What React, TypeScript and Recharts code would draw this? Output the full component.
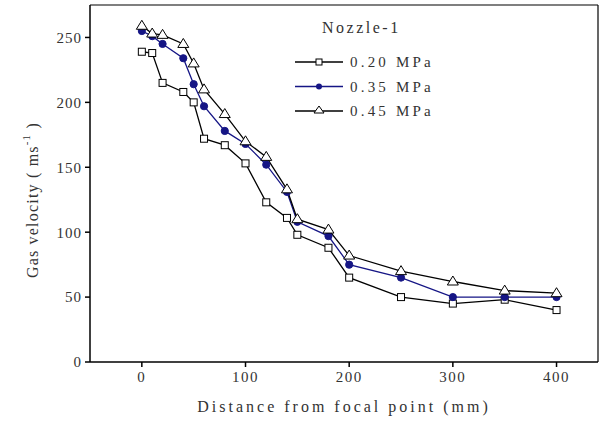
import React from "react";
import { Legend, LineChart, Line, ReferenceLine, XAxis, YAxis } from "recharts";

const distances = [0, 10, 20, 40, 50, 60, 80, 100, 120, 140, 150, 180, 200, 250, 300, 350, 400];
const p020 = [239, 238, 215, 208, 200, 172, 167, 153, 123, 111, 98, 88, 65, 50, 45, 48, 40];
const p035 = [255, 251, 245, 234, 214, 197, 178, 168, 152, 131, 108, 97, 75, 65, 50, 50, 50];
const p045 = [259, 253, 252, 245, 230, 210, 191, 170, 158, 133, 110, 102, 82, 70, 62, 55, 53];
const xTicks = [0, 100, 200, 300, 400];
const yTicks = [0, 50, 100, 150, 200, 250];

const data = distances.map((x, i) => ({ x, p020: p020[i], p035: p035[i], p045: p045[i] }));

const FONT = '"Liberation Serif", "Times New Roman", serif';
const NAVY = "#151585";
const TXT = "#333";

const Square = (props: any) => {
  const { cx, cy } = props;
  if (cx == null || cy == null) return null;
  return <rect x={cx - 3.5} y={cy - 3.5} width={7} height={7} fill="#fff" stroke="#000" strokeWidth={1} />;
};

const Dot = (props: any) => {
  const { cx, cy } = props;
  if (cx == null || cy == null) return null;
  return <circle cx={cx} cy={cy} r={3.6} fill={NAVY} stroke={NAVY} />;
};

const Tri = (props: any) => {
  const { cx, cy } = props;
  if (cx == null || cy == null) return null;
  return (
    <polygon
      points={`${cx},${cy - 5.5} ${cx + 5.5},${cy + 3.5} ${cx - 5.5},${cy + 3.5}`}
      fill="#fff"
      stroke="#000"
      strokeWidth={1}
    />
  );
};

const entries = [
  { label: "0.20 MPa", color: "#000", mark: "sq" },
  { label: "0.35 MPa", color: NAVY, mark: "dot" },
  { label: "0.45 MPa", color: "#000", mark: "tri" },
];

const LegendBox = () => (
  <svg width={170} height={125} style={{ display: "block", fontFamily: FONT }}>
    <text x={32} y={28} fontSize={16} letterSpacing={2.5} fill={TXT} fontFamily={FONT}>
      Nozzle-1
    </text>
    {entries.map((e, i) => {
      const y = 57 + i * 24.5;
      return (
        <g key={e.label}>
          <line x1={5} x2={53} y1={y} y2={y} stroke={e.color} strokeWidth={1.3} />
          {e.mark === "sq" && <rect x={26} y={y - 3} width={6} height={6} fill="#fff" stroke="#000" />}
          {e.mark === "dot" && <circle cx={29} cy={y} r={3} fill={NAVY} />}
          {e.mark === "tri" && (
            <polygon points={`29,${y - 5} 34,${y + 2} 24,${y + 2}`} fill="#fff" stroke="#000" />
          )}
          <text x={60} y={y + 5} fontSize={15} letterSpacing={3.2} fill={TXT} fontFamily={FONT}>
            {e.label}
          </text>
        </g>
      );
    })}
  </svg>
);

const YLabel = () => {
  const cx = 38;
  const cy = 200;
  return (
    <text
      x={cx}
      y={cy}
      transform={`rotate(-90, ${cx}, ${cy})`}
      textAnchor="middle"
      fontSize={16}
      letterSpacing={1.2}
      fill={TXT}
      fontFamily={FONT}
    >
      Gas velocity ( ms
      <tspan dy={-8} fontSize={11}>-1</tspan>
      <tspan dy={8}> )</tspan>
    </text>
  );
};

export default function App() {
  return (
    <div
      style={{
        position: "absolute",
        left: 0,
        top: 0,
        width: 599,
        height: 427,
        background: "#fff",
        fontFamily: FONT,
      }}
    >
      <LineChart width={599} height={427} data={data} margin={{ top: 5, right: 1, bottom: 5, left: 0 }}>
        <XAxis
          dataKey="x"
          type="number"
          domain={[-50, 440]}
          ticks={xTicks}
          allowDataOverflow
          height={60}
          tickSize={5}
          tickMargin={4}
          stroke="#000"
          strokeWidth={1.5}
          tick={{ fontSize: 15, fill: TXT, letterSpacing: 1.5, fontFamily: FONT }}
          label={{
            value: "Distance from focal point (mm)",
            position: "insideBottom",
            offset: 10,
            fontSize: 16,
            fill: TXT,
            letterSpacing: 3,
            fontFamily: FONT,
          }}
        />
        <YAxis
          type="number"
          domain={[0, 275]}
          ticks={yTicks}
          allowDataOverflow
          width={90}
          tickSize={5}
          tickMargin={3}
          stroke="#000"
          strokeWidth={1.5}
          tick={{ fontSize: 15, fill: TXT, letterSpacing: 1, fontFamily: FONT }}
          label={<YLabel />}
        />
        <ReferenceLine y={275} stroke="#000" strokeWidth={1.2} />
        <ReferenceLine x={440} stroke="#000" strokeWidth={1.2} />
        <Legend
          layout="vertical"
          align="center"
          verticalAlign="middle"
          content={() => <LegendBox />}
          wrapperStyle={{ top: 5, left: 290, width: 170, height: 125 }}
        />
        <Line
          type="linear"
          dataKey="p020"
          name="0.20 MPa"
          stroke="#000"
          strokeWidth={1.3}
          dot={<Square />}
          isAnimationActive={false}
        />
        <Line
          type="linear"
          dataKey="p035"
          name="0.35 MPa"
          stroke={NAVY}
          strokeWidth={1.3}
          dot={<Dot />}
          isAnimationActive={false}
        />
        <Line
          type="linear"
          dataKey="p045"
          name="0.45 MPa"
          stroke="#000"
          strokeWidth={1.3}
          dot={<Tri />}
          isAnimationActive={false}
        />
      </LineChart>
    </div>
  );
}
